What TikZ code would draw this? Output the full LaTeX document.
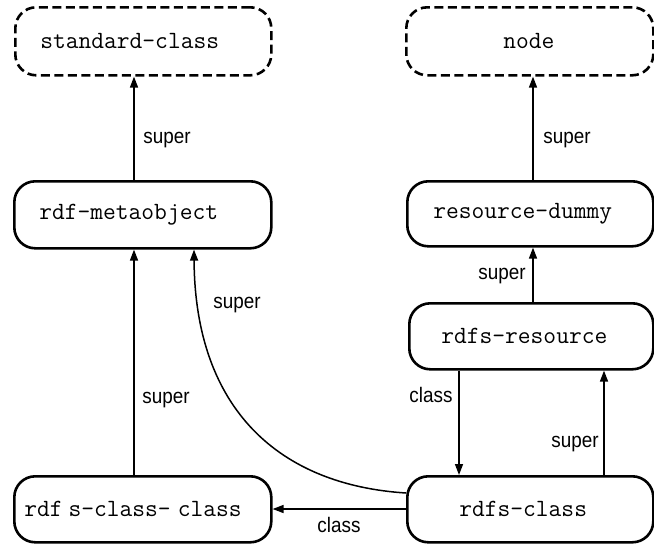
\documentclass[tikz,border=0pt]{standalone}
\usepackage{fontspec}
\newfontfamily\lblfont[FakeStretch=0.9]{Liberation Sans}
\usetikzlibrary{arrows.meta}

\tikzset{
  classbox/.style={draw, line width=2.6pt, rounded corners=21pt,
    anchor=north west, align=left, inner ysep=0pt,
    font=\ttfamily\fontsize{24.8}{28}\selectfont},
  dashbox/.style={classbox, dash pattern=on 9pt off 4.5pt},
  arr/.style={line width=1.5pt, -{Triangle[length=11pt,width=8pt]}},
  lbl/.style={font=\lblfont\fontsize{21}{24}\selectfont, inner sep=0pt}
}

\begin{document}
\begin{tikzpicture}[x=1pt, y=-1pt]
  \useasboundingbox (0,0) rectangle (654,544);

  % class boxes: left/top corner, text pad, width and height
  \node[dashbox, inner xsep=25pt, text width=206pt, minimum height=68pt] (std) at (14,6) {standard-class};
  \node[dashbox, inner xsep=97pt, text width=53pt, minimum height=68pt] (nd) at (405,6) {node};
  \node[classbox, inner xsep=25pt, text width=207pt, minimum height=67pt] (meta) at (13,180) {rdf-metaobject};
  \node[classbox, inner xsep=26pt, text width=194pt, minimum height=65pt] (dummy) at (406,180) {resource-dummy};
  \node[classbox, inner xsep=32pt, text width=180pt, minimum height=66pt] (res) at (408,302) {rdfs-resource};
  \node[classbox, inner xsep=52pt, text width=142pt, minimum height=66pt] (cls) at (406,475) {rdfs-class};
  \node[classbox, inner xsep=10pt, text width=237pt, minimum height=66pt] (clscls) at (13,475) {rdf\kern6pt s-class-\kern7pt class};

  % superclass links
  \draw[arr] (meta.north -| 134,0) -- (std.south -| 134,0);
  \draw[arr] (dummy.north -| 533,0) -- (nd.south -| 533,0);
  \draw[arr] (res.north -| 533,0) -- (dummy.south -| 533,0);
  \draw[arr] (clscls.north -| 134,0) -- (meta.south -| 134,0);
  \draw[arr] (cls.north -| 604,0) -- (res.south -| 604,0);
  \draw[arr] (cls.west |- 0,493) .. controls (280,485) and (195,410) .. (meta.south -| 194,0);

  % class-of links
  \draw[arr] (res.south -| 459,0) -- (cls.north -| 459,0);
  \draw[arr] (cls.west |- 0,509) -- (clscls.east |- 0,509);

  % link labels
  \node[lbl] (l1) at (167,140) {super};
  \node[lbl] (l2) at (567,140) {super};
  \node[lbl] (l3) at (502,276) {super};
  \node[lbl] (l4) at (237,305) {super};
  \node[lbl] (l5) at (166,400) {super};
  \node[lbl] (l6) at (431,395) {class};
  \node[lbl] (l7) at (575,444) {super};
  \node[lbl] (l8) at (339,525) {class};
\end{tikzpicture}
\end{document}
